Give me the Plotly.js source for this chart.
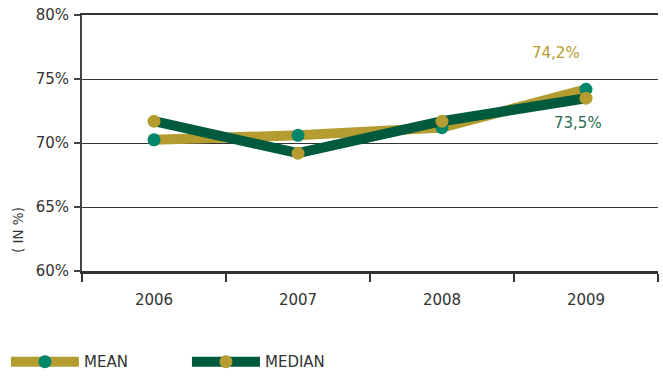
<!DOCTYPE html>
<html>
<head>
<meta charset="utf-8">
<script src="https://cdn.plot.ly/plotly-3.0.1.min.js"></script>
<style>
  html, body { margin: 0; padding: 0; background: #ffffff; }
  #chart { width: 663px; height: 376px; }
</style>
</head>
<body>
<div id="chart"></div>
<script>
// Yearly share values (in %)
const years = ['2006', '2007', '2008', '2009'];
const meanValues = [70.25, 70.6, 71.2, 74.2];
const medianValues = [71.7, 69.2, 71.7, 73.5];
const yTicks = [60, 65, 70, 75, 80];
const yTickLabels = ['60%', '65%', '70%', '75%', '80%'];
const seriesNames = ['MEAN', 'MEDIAN'];

const GOLD = '#b49c30';
const DARK_GREEN = '#005b3e';
const TEAL = '#00866a';
const TEXT = '#333333';
const FONT = '"DejaVu Sans", Verdana, sans-serif';

const fmt = v => v.toFixed(1).replace('.', ',') + '%';
const last = years.length - 1;

const traces = [
  {
    x: years, y: meanValues, name: seriesNames[0],
    type: 'scatter', mode: 'lines+markers',
    line: { color: GOLD, width: 10 },
    marker: { color: TEAL, size: 13 },
    hoverinfo: 'skip'
  },
  {
    x: years, y: medianValues, name: seriesNames[1],
    type: 'scatter', mode: 'lines+markers',
    line: { color: DARK_GREEN, width: 10 },
    marker: { color: GOLD, size: 13 },
    hoverinfo: 'skip'
  }
];

const layout = {
  width: 663, height: 376,
  margin: { l: 82, r: 5, t: 15, b: 105, autoexpand: false },
  paper_bgcolor: '#ffffff', plot_bgcolor: '#ffffff',
  font: { family: FONT, color: TEXT, size: 14 },
  showlegend: true,
  legend: {
    orientation: 'h', x: -0.132, xanchor: 'left', y: -0.355, yanchor: 'middle',
    itemwidth: 68, entrywidth: 98, entrywidthmode: 'pixels',
    font: { family: FONT, size: 15, color: TEXT },
    traceorder: 'normal'
  },
  xaxis: {
    type: 'category', range: [-0.5, 3.5],
    showline: true, mirror: true, linecolor: '#333333', linewidth: 2.5,
    showgrid: false, zeroline: false,
    ticks: 'outside', tickson: 'boundaries', ticklen: 8, tickwidth: 2, tickcolor: '#333333',
    ticklabelstandoff: 13,
    tickfont: { family: FONT, size: 15, color: TEXT },
    fixedrange: true
  },
  yaxis: {
    range: [60, 80], tickvals: yTicks, ticktext: yTickLabels,
    showline: true, linecolor: '#444444', linewidth: 2,
    showgrid: true, gridcolor: '#333333', gridwidth: 1,
    zeroline: false,
    ticks: 'outside', ticklen: 6, tickwidth: 2, tickcolor: '#444444',
    ticklabelstandoff: 2,
    tickfont: { family: FONT, size: 15, color: TEXT },
    fixedrange: true
  },
  annotations: [
    {
      xref: 'x', yref: 'y', x: last, y: meanValues[last],
      text: fmt(meanValues[last]), showarrow: false,
      xshift: -30, yshift: 36,
      font: { family: FONT, size: 15, color: GOLD }
    },
    {
      xref: 'x', yref: 'y', x: last, y: medianValues[last],
      text: fmt(medianValues[last]), showarrow: false,
      xshift: -8, yshift: -25,
      font: { family: FONT, size: 15, color: '#2a6a4f' }
    },
    {
      xref: 'paper', yref: 'paper', x: -0.111, y: 0.16,
      xanchor: 'center', yanchor: 'middle',
      text: '( IN %)', showarrow: false, textangle: -90,
      font: { family: FONT, size: 13.5, color: TEXT }
    }
  ]
};

Plotly.newPlot('chart', traces, layout, { displayModeBar: false, staticPlot: true });
</script>
</body>
</html>
